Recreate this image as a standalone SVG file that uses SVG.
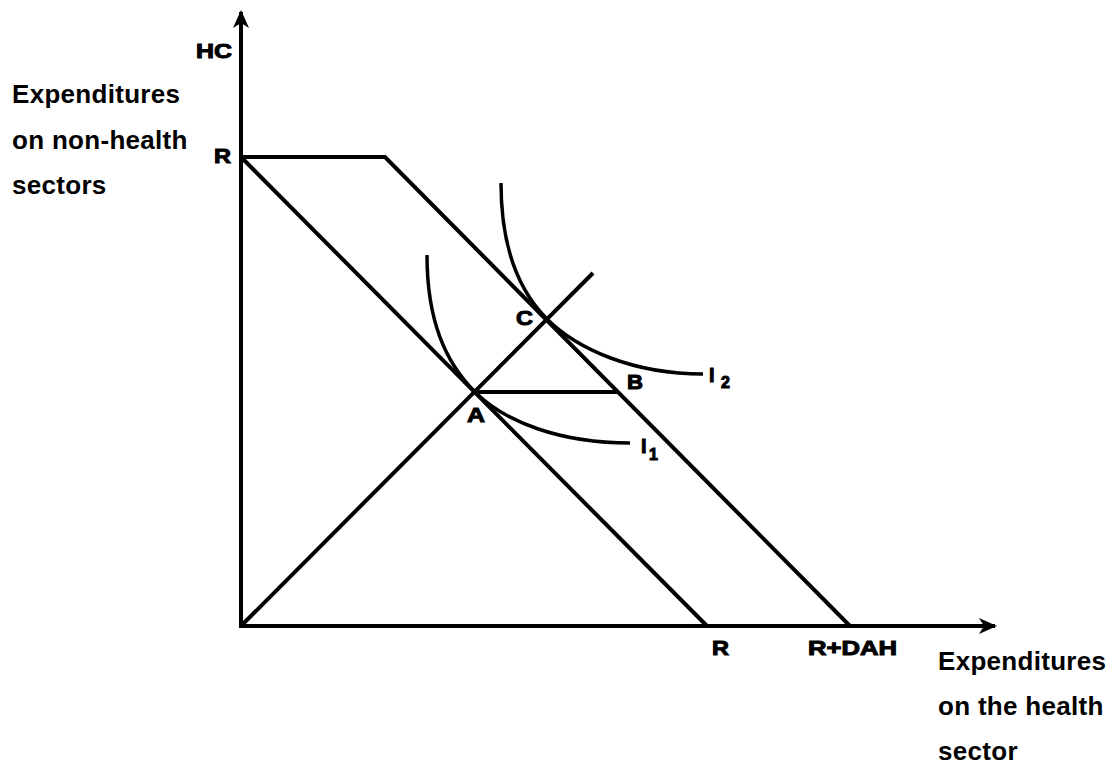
<svg xmlns="http://www.w3.org/2000/svg" width="1114" height="771" viewBox="0 0 1114 771">
<style>
.ln{stroke:#000;stroke-width:4;fill:none;stroke-linecap:butt;stroke-linejoin:miter}
.cv{stroke:#000;stroke-width:3.5;fill:none}
.lb{font-family:"Liberation Sans",Arial,sans-serif;font-weight:bold;font-size:20px;fill:#000;stroke:#000;stroke-width:1}
.ax{font-family:"Liberation Sans",Arial,sans-serif;font-weight:bold;font-size:26px;letter-spacing:0.3px;fill:#000}
</style>
<defs>
<marker id="arr" markerWidth="18" markerHeight="16" refX="16" refY="8" orient="auto" markerUnits="userSpaceOnUse">
<path d="M0,0 L18,8 L0,16 L5,8 Z" fill="#000"/>
</marker>
</defs>
<rect width="1114" height="771" fill="#fff"/>
<g id="connectors">
<path id="y-axis" class="ln" d="M241,628 L241,12" marker-end="url(#arr)"/>
<path id="x-axis" class="ln" d="M239,626 L995,626" marker-end="url(#arr)"/>
<path id="budget-R" class="ln" d="M241,157 L707,626"/>
<path id="budget-RDAH" class="ln" d="M241,157 L385,157 L850,626"/>
<path id="ray" class="ln" d="M241,626 L593,273"/>
<path id="AB" class="ln" d="M475,392 L618,392"/>
<path id="I1-curve" class="cv" d="M427,255 C427,320 445,362 475,392 C505,422 560,443 630,443"/>
<path id="I2-curve" class="cv" d="M501,183 C501,250 520,292 547,319 C577,349 633,374 703,374"/>
</g>
<g id="label-HC"><text class="lb" x="196" y="58" textLength="36" lengthAdjust="spacingAndGlyphs">HC</text></g>
<g id="label-R-top"><text class="lb" x="214" y="163" textLength="17" lengthAdjust="spacingAndGlyphs">R</text></g>
<g id="label-C"><text class="lb" x="516" y="325" textLength="17" lengthAdjust="spacingAndGlyphs">C</text></g>
<g id="label-B"><text class="lb" x="627" y="389" textLength="16" lengthAdjust="spacingAndGlyphs">B</text></g>
<g id="label-A"><text class="lb" x="467" y="422" textLength="18" lengthAdjust="spacingAndGlyphs">A</text></g>
<g id="label-I2"><text class="lb" x="709" y="382">I<tspan font-size="16" x="721" y="388">2</tspan></text></g>
<g id="label-I1"><text class="lb" x="641" y="453">I<tspan font-size="16" x="649" y="460">1</tspan></text></g>
<g id="label-R-bottom"><text class="lb" x="712" y="655" textLength="17" lengthAdjust="spacingAndGlyphs">R</text></g>
<g id="label-RDAH"><text class="lb" x="808" y="655" textLength="89" lengthAdjust="spacingAndGlyphs">R+DAH</text></g>
<g id="label-y-axis">
<text class="ax" x="12" y="103">Expenditures</text>
<text class="ax" x="12" y="149">on non-health</text>
<text class="ax" x="12" y="194">sectors</text>
</g>
<g id="label-x-axis">
<text class="ax" x="938" y="670">Expenditures</text>
<text class="ax" x="938" y="715">on the health</text>
<text class="ax" x="938" y="760">sector</text>
</g>
</svg>
